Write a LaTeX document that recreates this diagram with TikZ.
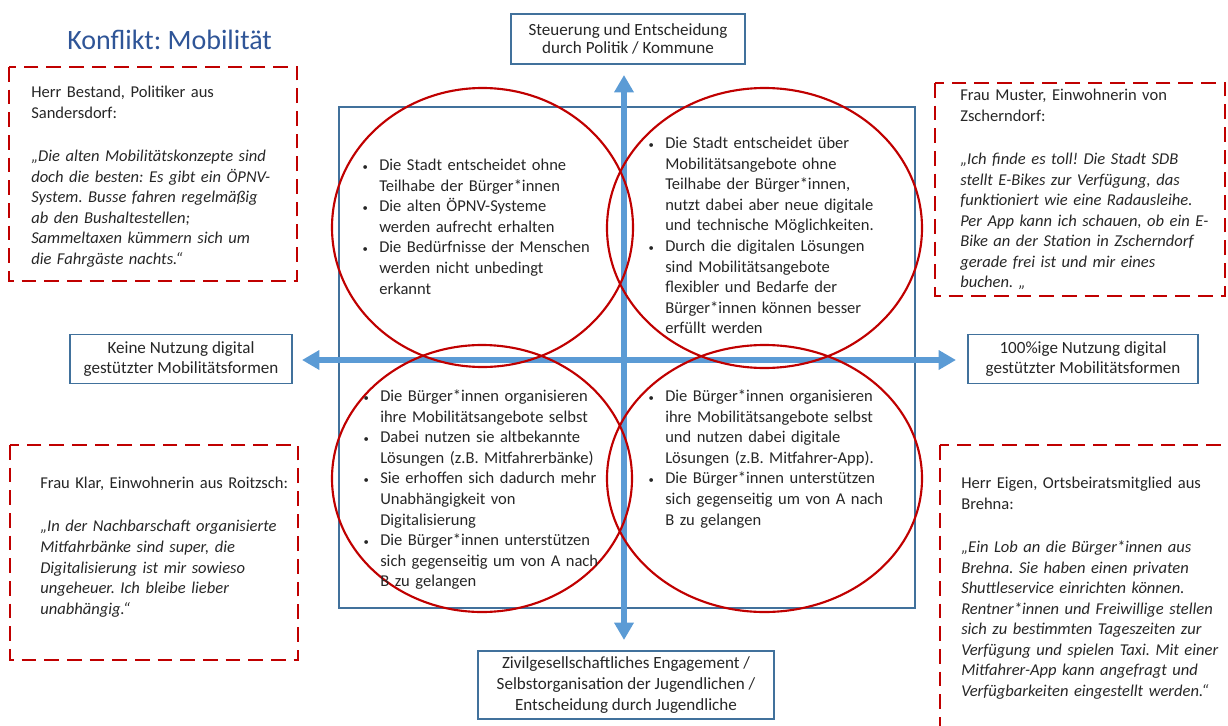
\documentclass[tikz,border=0pt]{standalone}
\usepackage{fontspec}
\setmainfont{Carlito}
\usepackage{enumitem}
\usetikzlibrary{arrows.meta}

\definecolor{axisblue}{HTML}{5B9BD5}
\definecolor{frameblue}{HTML}{41719C}
\definecolor{konfliktred}{HTML}{C00000}
\definecolor{titleblue}{HTML}{2F5597}
\definecolor{textgrey}{HTML}{262626}

\frenchspacing
\def\px{0.75pt}
\newcommand{\quadlist}[1]{\begin{itemize}[nosep,leftmargin=12.75pt,labelsep=8.5pt,label={\footnotesize\textbullet}]#1\end{itemize}}

\tikzset{
  bodyfont/.style={font=\fontsize{12.4}{15.4}\selectfont, text=textgrey},
  axisbox/.style={draw=frameblue, line width=0.9pt, align=center, inner sep=0pt, font=\fontsize{12.8}{15.4}\selectfont, text=textgrey},
  quadtext/.style={anchor=north west, inner sep=0pt, text width=#1, align=left, bodyfont},
  quotetext/.style={anchor=north west, inner sep=0pt, text width=#1, align=left, bodyfont},
  quotebox/.style={draw=konfliktred, line width=2.2pt, dash pattern=on 11pt off 6pt},
  quadring/.style={draw=konfliktred, line width=1.6pt},
  axisarrow/.style={draw=axisblue, line width=5pt, {Triangle[length=13pt,width=14pt]}-{Triangle[length=13pt,width=14pt]}}
}

\begin{document}
\begin{tikzpicture}[x=0.75pt, y=-0.75pt]
  \useasboundingbox (0,0) rectangle (1228,725);

  % title
  \node[anchor=west, inner sep=0pt, text=titleblue, font=\fontsize{21}{25}\selectfont] (title) at (67,40) {Konflikt: Mobilität};

  % frame of the four quadrants
  \draw[frameblue, line width=1.1pt] (339,107) rectangle (915,608);

  % axes
  \coordinate (axtop) at (624,75);
  \coordinate (axbottom) at (624,640);
  \coordinate (axleft) at (302,360);
  \coordinate (axright) at (956,360);
  \draw[axisarrow] (axbottom) -- (axtop);
  \draw[axisarrow] (axleft) -- (axright);

  % axis labels
  \node[axisbox, minimum width=234*\px, minimum height=50*\px, font=\fontsize{12.8}{13.6}\selectfont] (politik) at (628,39)
    {Steuerung und Entscheidung\\durch Politik / Kommune};
  \node[axisbox, minimum width=222*\px, minimum height=49*\px] (keine) at (181,359)
    {Keine Nutzung digital\\gestützter Mobilitätsformen};
  \node[axisbox, minimum width=230*\px, minimum height=49*\px] (voll) at (1083,359)
    {100\%ige Nutzung digital\\gestützter Mobilitätsformen};
  \node[axisbox, minimum width=296*\px, minimum height=68*\px] (zivil) at (626,685)
    {Zivilgesellschaftliches Engagement /\\Selbstorganisation der Jugendlichen /\\Entscheidung durch Jugendliche};

  % the four scenarios
  \draw[quadring] (482.5,227.5) ellipse [x radius=150.5, y radius=139.5];
  \draw[quadring] (764.5,228) ellipse [x radius=157.5, y radius=140];
  \draw[quadring] (482,478.5) ellipse [x radius=150, y radius=133.5];
  \draw[quadring] (764.5,478.5) ellipse [x radius=157.5, y radius=133.5];

  \node[quadtext=260*\px] (obenlinks) at (362,150) {\quadlist{
    \item Die Stadt entscheidet ohne\\Teilhabe der Bürger*innen
    \item Die alten ÖPNV-Systeme\\werden aufrecht erhalten
    \item Die Bedürfnisse der Menschen\\werden nicht unbedingt\\erkannt}};
  \node[quadtext=260*\px] (obenrechts) at (648,128) {\quadlist{
    \item Die Stadt entscheidet über\\Mobilitätsangebote ohne\\Teilhabe der Bürger*innen,\\nutzt dabei aber neue digitale\\und technische Möglichkeiten.
    \item Durch die digitalen Lösungen\\sind Mobilitätsangebote\\flexibler und Bedarfe der\\Bürger*innen können besser\\erfüllt werden}};
  \node[quadtext=260*\px] (untenlinks) at (363,381) {\quadlist{
    \item Die Bürger*innen organisieren\\ihre Mobilitätsangebote selbst
    \item Dabei nutzen sie altbekannte\\Lösungen (z.B. Mitfahrerbänke)
    \item Sie erhoffen sich dadurch mehr\\Unabhängigkeit von\\Digitalisierung
    \item Die Bürger*innen unterstützen\\sich gegenseitig um von A nach\\B zu gelangen}};
  \node[quadtext=260*\px] (untenrechts) at (648,381) {\quadlist{
    \item Die Bürger*innen organisieren\\ihre Mobilitätsangebote selbst\\und nutzen dabei digitale\\Lösungen (z.B. Mitfahrer-App).
    \item Die Bürger*innen unterstützen\\sich gegenseitig um von A nach\\B zu gelangen}};

  % voices
  \draw[quotebox] (9,67) rectangle (297,281);
  \node[quotetext=275*\px] (bestand) at (31,86)
    {Herr Bestand, Politiker aus\\Sandersdorf:\\[17pt]
     \itshape „Die alten Mobilitätskonzepte sind\\doch die besten: Es gibt ein ÖPNV-\\System. Busse fahren regelmäßig\\ab den Bushaltestellen;\\Sammeltaxen kümmern sich um\\die Fahrgäste nachts.“};

  \draw[quotebox] (935,83) rectangle (1225,296);
  \node[quotetext=280*\px] (muster) at (960,89)
    {Frau Muster, Einwohnerin von\\Zscherndorf:\\[17pt]
     \itshape „Ich finde es toll! Die Stadt SDB\\stellt E-Bikes zur Verfügung, das\\funktioniert wie eine Radausleihe.\\Per App kann ich schauen, ob ein E-\\Bike an der Station in Zscherndorf\\gerade frei ist und mir eines\\buchen. „};

  \draw[quotebox] (10,445) rectangle (298,660);
  \node[quotetext=280*\px] (klar) at (40,477)
    {Frau Klar, Einwohnerin aus Roitzsch:\\[17pt]
     \itshape „In der Nachbarschaft organisierte\\Mitfahrbänke sind super, die\\Digitalisierung ist mir sowieso\\ungeheuer. Ich bleibe lieber\\unabhängig.“};

  \draw[quotebox] (940,445) rectangle (1245,745);
  \node[quotetext=290*\px] (eigen) at (961,477)
    {Herr Eigen, Ortsbeiratsmitglied aus\\Brehna:\\[17pt]
     \itshape „Ein Lob an die Bürger*innen aus\\Brehna. Sie haben einen privaten\\Shuttleservice einrichten können.\\Rentner*innen und Freiwillige stellen\\sich zu bestimmten Tageszeiten zur\\Verfügung und spielen Taxi. Mit einer\\Mitfahrer-App kann angefragt und\\Verfügbarkeiten eingestellt werden.“};
\end{tikzpicture}
\end{document}
